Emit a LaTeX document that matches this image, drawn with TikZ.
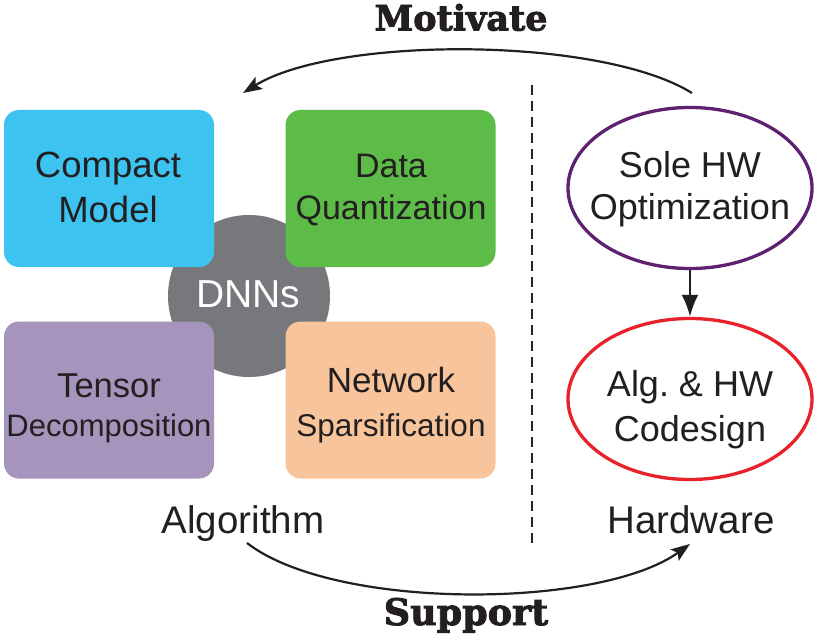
\documentclass[tikz,border=0pt]{standalone}
\usepackage{fontspec}
\setmainfont{Liberation Sans}
\newfontfamily\heavyserif[BoldFont={DejaVu Serif Bold},BoldFeatures={FakeBold=2.5}]{DejaVu Serif}
\usetikzlibrary{arrows.meta,shapes.geometric}
\definecolor{cmcol}{HTML}{3CC3F0}
\definecolor{dqcol}{HTML}{5DBB47}
\definecolor{tdcol}{HTML}{A594BC}
\definecolor{nscol}{HTML}{F8C49B}
\definecolor{dnncol}{HTML}{77787B}
\definecolor{solecol}{HTML}{5E2171}
\definecolor{codecol}{HTML}{E8212B}
\definecolor{inkcol}{HTML}{231F20}
\tikzset{
  algbox/.style={rectangle, rounded corners=15pt, minimum width=210pt, minimum height=157pt,
    inner sep=0pt},
  boxtxt/.style={align=center, inner sep=0pt, text=inkcol},
  hwell/.style={ellipse, draw, line width=3.3pt, minimum width=244pt, minimum height=161pt,
    inner sep=0pt, fill=white},
  conn/.style={line width=2.2pt, -{Stealth[length=19pt,width=14pt,inset=4pt]}},
  bannertxt/.style={anchor=base, inner sep=0pt, text=inkcol},
  sidetxt/.style={anchor=base, inner sep=0pt, text=inkcol, font=\fontsize{38.5}{40}\selectfont}
}
\begin{document}
\begin{tikzpicture}[x=1pt,y=-1pt]
\useasboundingbox (0,0) rectangle (820,642);
% central circle
\node[circle, fill=dnncol, minimum size=162pt, inner sep=0pt] (dnn) at (249,296) {};
% boxes
\node[algbox, fill=cmcol] (cm) at (109,188.5) {};
\node[algbox, fill=dqcol] (dq) at (390.5,188.5) {};
\node[algbox, fill=tdcol] (td) at (109,400) {};
\node[algbox, fill=nscol] (ns) at (390.5,400) {};
\node[boxtxt, font=\fontsize{36.5}{45}\selectfont] (cmt) at (108,187) {Compact\\Model};
\node[boxtxt, font=\fontsize{34}{42}\selectfont] (dqt) at (391,190) {Data\\Quantization};
\node[boxtxt, font=\fontsize{34.5}{39}\selectfont] (tdt) at (109,408.5) {Tensor\\\fontsize{31}{39}\selectfont Decomposition};
\node[boxtxt, font=\fontsize{35}{44}\selectfont] (nst) at (391,405.5) {Network\\\fontsize{31.5}{44}\selectfont Sparsification};
\node[text=white, inner sep=0pt, font=\fontsize{39}{40}\selectfont] (dnnlbl) at (248.5,294) {DNNs};
% dashed separator
\coordinate (dtop) at (532,85);
\coordinate (dbot) at (532,545);
\draw[line width=2.2pt, dash pattern=on 10pt off 6pt, color=inkcol] (dtop) -- (dbot);
% hardware ellipses
\node[hwell, draw=solecol] (sole) at (690,188) {};
\node[hwell, draw=codecol] (code) at (690,399) {};
\node[boxtxt, font=\fontsize{36}{42}\selectfont] (solet) at (690,189.5) {Sole HW\\Optimization};
\node[boxtxt, font=\fontsize{36}{45}\selectfont] (codet) at (690,410) {Alg.\ \& HW\\Codesign};
\draw[line width=2.8pt, color=inkcol, -{Latex[length=22pt,width=17pt]}] (sole.south) -- (code.north);
% labels
\node[sidetxt] (alg) at (243,533) {Algorithm};
\node[sidetxt] (hw) at (691,533) {Hardware};
% motivate arrow
\coordinate (mstart) at (692,93);
\coordinate (mend) at (243,93);
\draw[conn, color=inkcol] (mstart) .. controls (600,36) and (335,36) .. (mend);
\node[bannertxt, font=\heavyserif\bfseries\fontsize{35}{36}\selectfont] (mot) at (461,30.5) {Motivate};
% support arrow
\coordinate (sstart) at (247,543);
\coordinate (send) at (690,544);
\draw[conn, color=inkcol] (sstart) .. controls (335,611) and (600,609) .. (send);
\node[bannertxt, font=\heavyserif\bfseries\fontsize{36.5}{38}\selectfont] (sup) at (466,625) {Support};
\end{tikzpicture}
\end{document}
